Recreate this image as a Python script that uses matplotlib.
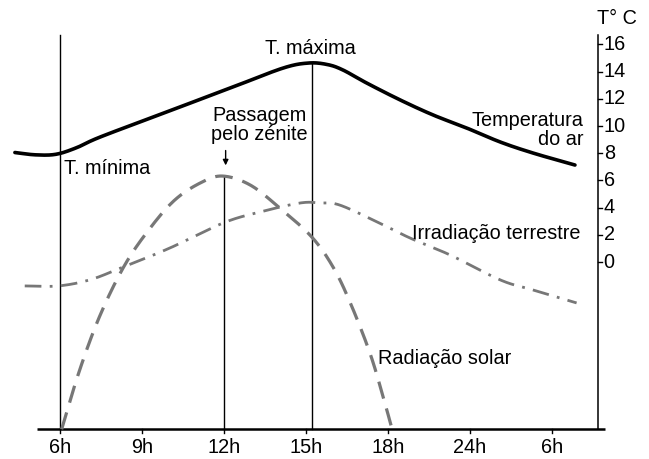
import matplotlib
matplotlib.use("Agg")
import matplotlib.pyplot as plt
import numpy as np

plt.rcParams['font.family'] = ['Liberation Sans', 'DejaVu Sans']

# ---- data ----
x_tick_labels = ['6h', '9h', '12h', '15h', '18h', '24h', '6h']
x_tick_pos = [0, 1, 2, 3, 4, 5, 6]
y_ticks = [0, 2, 4, 6, 8, 10, 12, 14, 16]

temp_x = [-0.55, -0.30, -0.05, 0.20, 0.49, 1.30, 2.11, 2.72, 3.03, 3.26, 3.45, 3.74, 4.15, 4.55, 4.96, 5.37, 5.77, 6.28]
temp_y = [8.05, 7.88, 7.92, 8.40, 9.19, 11.03, 12.87, 14.26, 14.63, 14.52, 14.12, 13.16, 11.91, 10.81, 9.85, 8.82, 8.01, 7.13]

solar_x = [0.02, 0.24, 0.49, 0.79, 1.10, 1.40, 1.71, 1.98, 2.32, 2.68, 3.07, 3.33, 3.54, 3.78, 3.94, 4.05]
solar_y = [-12.3, -7.94, -3.9, -0.22, 2.5, 4.56, 5.81, 6.32, 5.66, 3.97, 1.84, -0.37, -3.0, -6.7, -9.9, -12.3]

irr_x = [-0.43, -0.02, 0.37, 0.77, 1.34, 1.99, 2.44, 2.93, 3.17, 3.41, 3.87, 4.27, 4.76, 5.37, 5.77, 6.30]
irr_y = [-1.76, -1.76, -1.3, -0.37, 1.03, 2.87, 3.68, 4.34, 4.34, 4.19, 2.94, 1.76, 0.51, -1.32, -2.06, -3.01]

y_base = -12.3
y_top = 16.7
x_axis_start = -0.28
x_axis_end = 6.65
right_axis_x = 6.56
t_max_x = 3.07


def smooth(xs, ys):
    P = np.column_stack([np.asarray(xs, float), np.asarray(ys, float)])
    P = np.vstack([2*P[0]-P[1], P, 2*P[-1]-P[-2]])
    out = []
    for i in range(1, len(P)-2):
        p0, p1, p2, p3 = P[i-1], P[i], P[i+1], P[i+2]
        for s in np.linspace(0, 1, 30, endpoint=False):
            s2, s3 = s*s, s*s*s
            out.append(0.5*((2*p1) + (-p0+p2)*s + (2*p0-5*p1+4*p2-p3)*s2 + (-p0+3*p1-3*p2+p3)*s3))
    out.append(P[-2])
    out = np.array(out)
    return out[:, 0], out[:, 1]


fig = plt.figure(figsize=(6.49, 4.59), dpi=100)
ax = fig.add_axes([0, 0, 1, 1])
ax.set_xlim(-60/82, 589/82)
ax.set_ylim(262/13.6 - 459/13.6, 262/13.6)
ax.axis('off')

fs = 14.3
# axes
ax.plot([x_axis_start, x_axis_end], [y_base, y_base], color='black', lw=1.8, solid_capstyle='butt')
ax.plot([right_axis_x, right_axis_x], [y_base, y_top], color='black', lw=1.1)
for p, lab in zip(x_tick_pos, x_tick_labels):
    ax.plot([p, p], [y_base, y_base - 0.3], color='black', lw=1)
    ax.text(p, -13.65, lab, ha='center', va='center', fontsize=fs)
for v in y_ticks:
    ax.plot([right_axis_x, right_axis_x + 0.05], [v, v], color='black', lw=1)
    ax.text(right_axis_x + 0.07, v, str(v), ha='left', va='center', fontsize=fs)
ax.text(right_axis_x - 0.01, 17.9, 'T° C', ha='left', va='center', fontsize=fs)

# vertical guide lines
ax.plot([0, 0], [y_base, y_top], color='black', lw=1.0)
ax.plot([2, 2], [y_base, max(solar_y)], color='black', lw=1.0)
ax.plot([t_max_x, t_max_x], [y_base, max(temp_y)], color='black', lw=1.0)

# curves
tx, ty = smooth(temp_x, temp_y)
ax.plot(tx, ty, color='black', lw=2.6, solid_capstyle='round')
sx, sy = smooth(solar_x, solar_y)
ax.plot(sx, sy, color='#777777', lw=2.3, dashes=(5.5, 3.2))
ix, iy = smooth(irr_x, irr_y)
ax.plot(ix, iy, color='#777777', lw=2.0, dashes=(6, 3, 1, 3))

# labels
ax.text(t_max_x - 0.02, 15.7, 'T. máxima', ha='center', va='center', fontsize=fs)
ax.text(2.43, 10.05, 'Passagem\npelo zénite', ha='center', va='center', fontsize=fs, linespacing=1.0)
ax.annotate('', xy=(2.02, 6.9), xytext=(2.02, 8.4),
            arrowprops=dict(arrowstyle='-|>', color='black', lw=1, mutation_scale=8))
ax.text(0.05, 6.9, 'T. mínima', ha='left', va='center', fontsize=fs)
ax.text(6.38, 9.7, 'Temperatura\ndo ar', ha='right', va='center', fontsize=fs, linespacing=1.05, multialignment='right')
ax.text(4.29, 2.06, 'Irradiação terrestre', ha='left', va='center', fontsize=fs)
ax.text(3.88, -7.06, 'Radiação solar', ha='left', va='center', fontsize=fs)

fig.savefig('out.png', dpi=100, facecolor='white')
